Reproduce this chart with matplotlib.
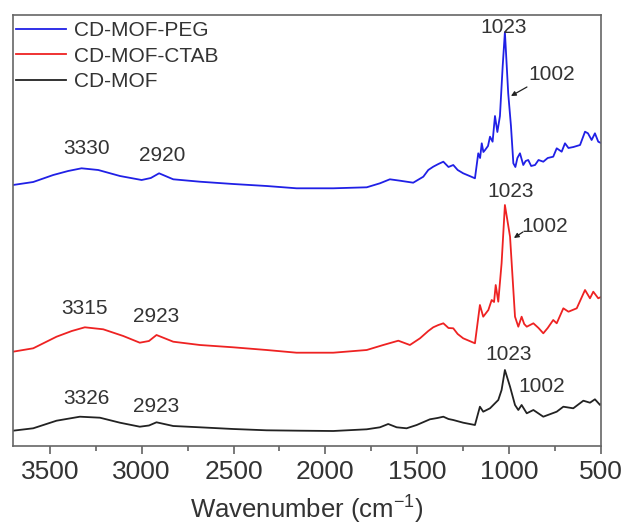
import matplotlib
matplotlib.use("Agg")
import matplotlib.pyplot as plt
from matplotlib.ticker import MultipleLocator

plt.rcParams['font.family'] = ['Liberation Sans', 'DejaVu Sans']

# FTIR spectra (wavenumber in cm-1, intensity in arbitrary offset units)
wn_peg = [3700, 3590, 3481, 3400, 3327, 3236, 3118, 3000, 2950, 2905, 2828, 2683, 2502, 2320, 2157,
          2048, 1957, 1775, 1703, 1649, 1594, 1522, 1467, 1440, 1413, 1385, 1358, 1330, 1304, 1280,
          1250, 1215, 1186, 1168, 1158, 1149, 1140, 1131, 1115, 1104, 1090, 1077, 1064, 1050, 1035,
          1023, 1005, 990, 977, 966, 955, 941, 923, 910, 896, 880, 859, 840, 814, 790, 760, 741,
          714, 696, 677, 650, 614, 587, 571, 551, 533, 515, 500]
y_peg = [261, 264, 271, 275, 277.7, 276, 270, 266, 268, 272.7, 266.7, 264.3, 262, 260, 257.7,
         257.7, 257.7, 258.7, 262.7, 266.7, 265.3, 263.3, 269.3, 276, 279.3, 282, 284.3, 279, 281, 276,
         272.7, 270, 267.7, 292.7, 288, 302.7, 294, 296, 300, 309.3, 304.3, 330, 314, 330, 380,
         414, 352.7, 320, 282.7, 279, 288, 292.7, 281, 285, 286, 280, 281, 286, 284.3, 288, 289.3, 297.7,
         294.3, 302.7, 298, 299, 301, 314.3, 312.7, 306, 312.7, 304.3, 303]

wn_ctab = [3700, 3590, 3463, 3380, 3309, 3209, 3100, 3010, 2960, 2919, 2828, 2683, 2502, 2320, 2157,
           2048, 1957, 1775, 1685, 1603, 1540, 1485, 1440, 1413, 1385, 1358, 1330, 1304, 1280, 1250,
           1186, 1159, 1141, 1113, 1095, 1082, 1073, 1059, 1041, 1023, 995, 968, 950, 932, 918,
           904, 868, 840, 814, 790, 760, 741, 705, 677, 632, 587, 560, 542, 515, 500]
y_ctab = [94.3, 97.7, 109.3, 115, 118.7, 116.7, 110, 103.3, 105, 111, 104.3, 101, 98.7, 96, 93.3,
          93.3, 93.3, 96, 101, 105.3, 101, 107.7, 115, 118.7, 121, 122.7, 118, 117.7, 112, 107.7,
          102.7, 141, 129.3, 136, 146, 144, 161, 144.3, 182.7, 241, 209.3, 129.3, 119.3, 129.3, 122,
          119.3, 122.7, 118, 112.7, 118, 126, 122.7, 137.7, 134.3, 137.7, 156, 147.7, 154.3, 147.7, 149]

wn_mof = [3700, 3590, 3463, 3336, 3227, 3118, 3010, 2960, 2919, 2828, 2683, 2502, 2320, 2139,
          1957, 1775, 1703, 1658, 1612, 1558, 1503, 1431, 1390, 1358, 1330, 1304, 1250, 1186, 1159,
          1141, 1104, 1077, 1059, 1041, 1023, 995, 968, 950, 932, 904, 868, 814, 741, 705, 651,
          596, 560, 533, 505, 500]
y_mof = [15.3, 17.7, 25.3, 29.3, 28.3, 23.3, 19.3, 20.5, 23.7, 20, 18.7, 17, 15.7, 15.3,
         15, 16.7, 18.7, 22, 18.7, 17.7, 21, 26.7, 28, 29.3, 27, 26, 23.3, 21, 39.3,
         34.3, 37.7, 42.7, 46, 56, 76, 59.3, 41, 36, 41, 32.7, 36, 29.3, 34.3, 39.3, 37.7,
         45.3, 43.3, 46.7, 41, 42]

labels = ['CD-MOF-PEG', 'CD-MOF-CTAB', 'CD-MOF']
colors = ['#2020e6', '#ee2222', '#222222']

# peak labels: (text, x, y)
peak_text = [('3330', 3298, 298), ('2920', 2886, 291), ('1023', 1032, 419),
             ('3315', 3309, 137), ('2923', 2919, 129), ('1023', 992, 255),
             ('3326', 3303, 47), ('2923', 2919, 39), ('1023', 1005, 91),
             ('1002', 823, 59), ('1002', 768, 372), ('1002', 805, 220)]
# small arrows pointing at the 1002 shoulder: (tail x, tail y, tip x, tip y)
arrows = [(903, 359, 990, 350), (925, 214, 974, 208)]

fig = plt.figure(figsize=(6.27, 5.24), dpi=100)
ax = fig.add_axes([13 / 627, 78 / 524, 588 / 627, 431 / 524])

for wn, y, lab, c in zip([wn_peg, wn_ctab, wn_mof], [y_peg, y_ctab, y_mof], labels, colors):
    ax.plot(wn, y, color=c, lw=1.3, label=lab)

ax.set_xlim(3700, 500)
ax.set_ylim(0, 431)
ax.xaxis.set_major_locator(MultipleLocator(500))
ax.xaxis.set_minor_locator(MultipleLocator(250))
ax.set_yticks([])
ax.tick_params(axis='x', which='major', direction='out', length=6, width=1.1,
               color='#555555', labelsize=19, labelcolor='#333333', pad=4)
ax.tick_params(axis='x', which='minor', direction='out', length=3.5, width=1.1, color='#555555')
for s in ax.spines.values():
    s.set_color('#666666')
    s.set_linewidth(1.2)

ax.set_xlabel('Wavenumber (cm$^{\\mathregular{-1}}$)', fontsize=18.5, color='#333333', labelpad=6)

for t, x, y in peak_text:
    ax.text(x, y, t, fontsize=15, color='#333333', ha='center', va='center')
for xt, yt, xa, ya in arrows:
    ax.annotate('', xy=(xa, ya), xytext=(xt, yt),
                arrowprops=dict(arrowstyle='-|>', color='#222222', lw=0.9,
                                mutation_scale=7, shrinkA=0, shrinkB=0))

leg = ax.legend(loc='upper left', bbox_to_anchor=(0.005, 0.985), frameon=False,
                fontsize=15, handlelength=2.4, handletextpad=0.4, labelspacing=0.3,
                borderpad=0, borderaxespad=0)
for txt in leg.get_texts():
    txt.set_color('#333333')

fig.savefig('out.png', dpi=100)
